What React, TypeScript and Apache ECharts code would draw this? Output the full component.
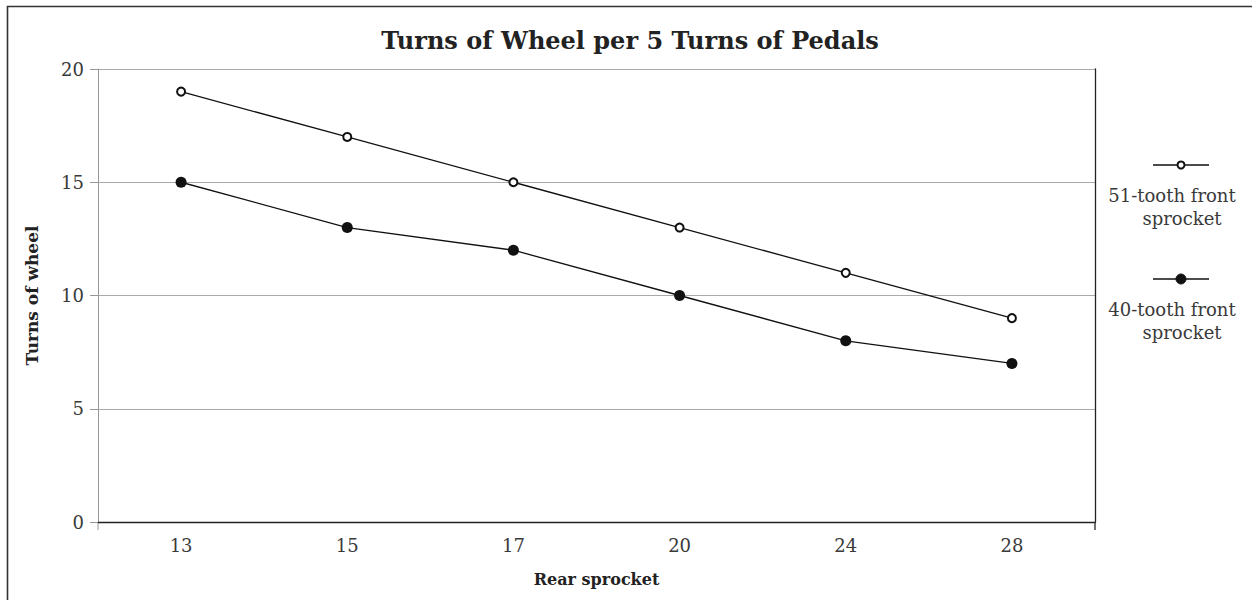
import React, { useEffect, useRef } from "react";
import * as echarts from "echarts";

const categories = ["13", "15", "17", "20", "24", "28"];
const front51 = [19, 17, 15, 13, 11, 9];
const front40 = [15, 13, 12, 10, 8, 7];
const seriesNames = ["51-tooth front sprocket", "40-tooth front sprocket"];
const yTicks = { min: 0, max: 20, interval: 5 };

const FONT = "'DejaVu Serif', 'Liberation Serif', serif";

export default function App() {
  const ref = useRef<HTMLDivElement>(null);
  useEffect(() => {
    if (!ref.current) return;
    const chart = echarts.init(ref.current, undefined, { renderer: "svg" });
    const legendItem = (cy: number, filled: boolean, l1: string, l2: string) => [
      {
        type: "line",
        shape: { x1: 1153, y1: cy, x2: 1209, y2: cy },
        style: { stroke: "#111", lineWidth: 1.3 },
      },
      {
        type: "circle",
        shape: { cx: 1181, cy, r: filled ? 5 : 3.5 },
        style: { fill: filled ? "#111" : "#fff", stroke: "#111", lineWidth: filled ? 1 : 2 },
        z: 10,
      },
      {
        type: "text",
        x: 1172,
        y: cy + 30,
        style: { text: l1, font: `18px ${FONT}`, fill: "#3a3a3a", align: "center", verticalAlign: "middle" },
      },
      {
        type: "text",
        x: 1182,
        y: cy + 53,
        style: { text: l2, font: `18px ${FONT}`, fill: "#3a3a3a", align: "center", verticalAlign: "middle" },
      },
    ];
    chart.setOption({
      animation: false,
      backgroundColor: "#fff",
      title: {
        text: "Turns of Wheel per 5 Turns of Pedals",
        left: 625,
        top: 23,
        textAlign: "center",
        textStyle: { fontFamily: FONT, fontWeight: "bold", fontSize: 24, color: "#222" },
      },
      grid: { left: 98, right: 157, top: 69, bottom: 78 },
      xAxis: {
        type: "category",
        data: categories,
        boundaryGap: true,
        name: "Rear sprocket",
        nameLocation: "middle",
        nameGap: 49,
        nameTextStyle: { fontFamily: FONT, fontWeight: "bold", fontSize: 16, color: "#222" },
        axisLine: { lineStyle: { color: "#222", width: 1.3 } },
        axisTick: { show: false },
        axisLabel: { fontFamily: FONT, fontSize: 18, color: "#3a3a3a", margin: 14 },
      },
      yAxis: [
        {
          type: "value",
          min: yTicks.min,
          max: yTicks.max,
          interval: yTicks.interval,
          name: "Turns of wheel",
          nameLocation: "middle",
          nameGap: 58,
          nameTextStyle: { fontFamily: FONT, fontWeight: "bold", fontSize: 17, color: "#222" },
          axisLine: { show: true, lineStyle: { color: "#999", width: 1 } },
          axisTick: { show: true, length: 8, lineStyle: { color: "#999" } },
          axisLabel: { fontFamily: FONT, fontSize: 18, color: "#3a3a3a", margin: 14 },
          splitLine: { lineStyle: { color: "#aaa", width: 1 } },
        },
        {
          type: "value",
          position: "right",
          min: yTicks.min,
          max: yTicks.max,
          interval: yTicks.interval,
          axisLine: { show: true, lineStyle: { color: "#222", width: 1.3 } },
          axisTick: { show: false },
          axisLabel: { show: false },
          splitLine: { show: false },
        },
      ],
      series: [
        {
          name: seriesNames[0],
          type: "line",
          data: front51,
          symbol: "circle",
          symbolSize: 8,
          itemStyle: { color: "#fff", borderColor: "#111", borderWidth: 2 },
          lineStyle: { color: "#111", width: 1.3 },
          z: 5,
        },
        {
          name: seriesNames[1],
          type: "line",
          data: front40,
          symbol: "circle",
          symbolSize: 11,
          itemStyle: { color: "#111", borderColor: "#111", borderWidth: 0 },
          lineStyle: { color: "#111", width: 1.3 },
          z: 5,
        },
      ],
      graphic: [
        {
          type: "rect",
          shape: { x: 7.5, y: 6.5, width: 1400, height: 800 },
          style: { fill: "none", stroke: "#333", lineWidth: 1.6 },
          silent: true,
        },
        { type: "line", shape: { x1: 98, y1: 522, x2: 98, y2: 530 }, style: { stroke: "#999", lineWidth: 1 } },
        { type: "line", shape: { x1: 1095, y1: 522, x2: 1095, y2: 530 }, style: { stroke: "#222", lineWidth: 1.3 } },
        ...legendItem(165, false, "51-tooth front", "sprocket"),
        ...legendItem(279, true, "40-tooth front", "sprocket"),
      ],
    });
    return () => chart.dispose();
  }, []);
  return (
    <div
      ref={ref}
      style={{ position: "fixed", left: 0, top: 0, width: 1252, height: 600 }}
    />
  );
}
